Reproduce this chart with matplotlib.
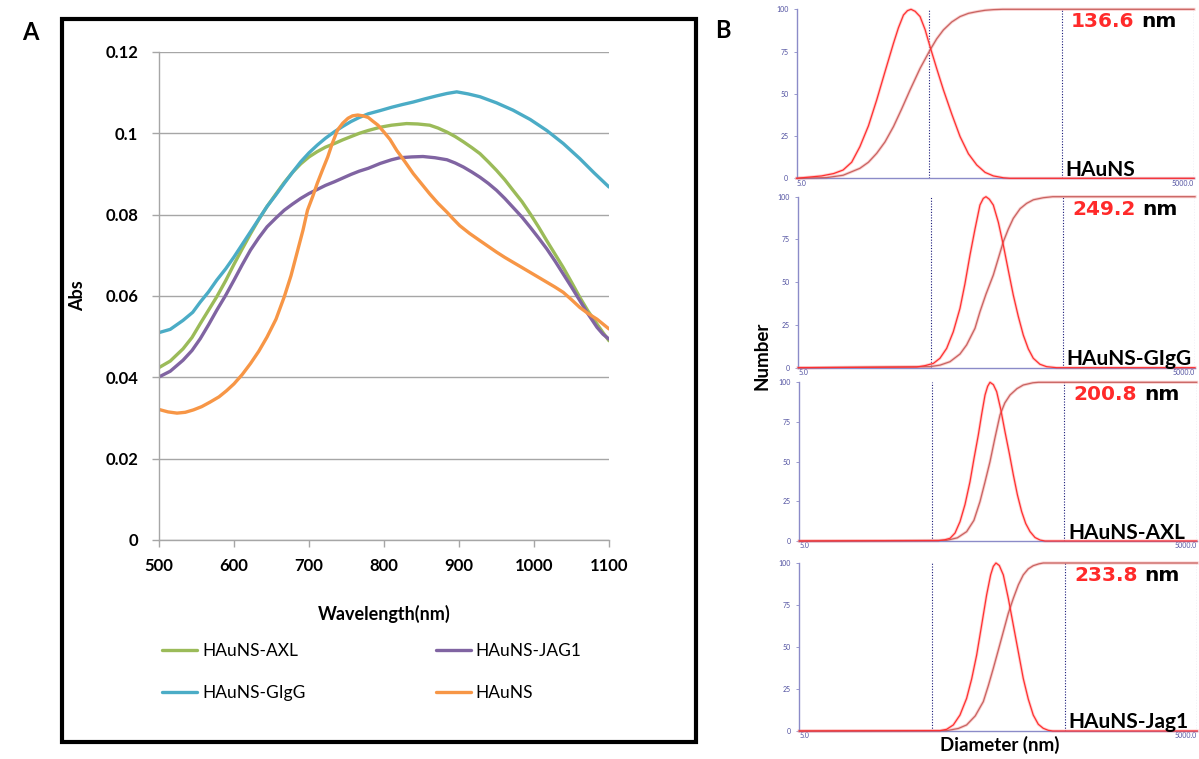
import matplotlib
matplotlib.use("Agg")
import matplotlib.pyplot as plt
from matplotlib.patches import Rectangle

plt.rcParams['font.family'] = ['Lato', 'DejaVu Sans']

# ---------------- Panel A data (UV-Vis) ----------------
wl_axl = [500, 515, 532, 544, 555, 566, 577, 589, 600, 611, 622, 633, 644, 656, 667, 678, 689, 700, 711, 722, 734, 745, 756, 767, 779, 795, 810, 830, 845, 861, 872, 884, 895, 906, 917, 928, 939, 950, 961, 972, 984, 995, 1006, 1017, 1028, 1039, 1050, 1061, 1072, 1084, 1092, 1100]
abs_axl = [0.0424, 0.0440, 0.0470, 0.0498, 0.0532, 0.0565, 0.0598, 0.0638, 0.0678, 0.0716, 0.0753, 0.0788, 0.0820, 0.0851, 0.0879, 0.0904, 0.0925, 0.0942, 0.0955, 0.0966, 0.0975, 0.0984, 0.0992, 0.1000, 0.1007, 0.1015, 0.1020, 0.1024, 0.1023, 0.1020, 0.1013, 0.1003, 0.0992, 0.0979, 0.0965, 0.0950, 0.0930, 0.0909, 0.0886, 0.0860, 0.0832, 0.0802, 0.0770, 0.0736, 0.0703, 0.0670, 0.0634, 0.0597, 0.0563, 0.0531, 0.0510, 0.0490]

wl_jag1 = [500, 515, 532, 544, 555, 566, 577, 589, 600, 611, 622, 633, 644, 656, 667, 678, 689, 700, 711, 722, 734, 745, 756, 767, 779, 795, 810, 821, 837, 852, 868, 884, 895, 906, 917, 928, 939, 950, 961, 972, 984, 995, 1006, 1017, 1028, 1039, 1050, 1061, 1072, 1084, 1092, 1100]
abs_jag1 = [0.0401, 0.0415, 0.0442, 0.0466, 0.0495, 0.0529, 0.0565, 0.0602, 0.0639, 0.0677, 0.0713, 0.0743, 0.0770, 0.0792, 0.0811, 0.0826, 0.0840, 0.0852, 0.0862, 0.0872, 0.0881, 0.0890, 0.0899, 0.0907, 0.0914, 0.0926, 0.0935, 0.0940, 0.0942, 0.0943, 0.0940, 0.0935, 0.0927, 0.0917, 0.0905, 0.0892, 0.0877, 0.0860, 0.0840, 0.0818, 0.0794, 0.0769, 0.0743, 0.0716, 0.0686, 0.0654, 0.0622, 0.0589, 0.0556, 0.0523, 0.0506, 0.0494]

wl_gigg = [500, 515, 532, 545, 555, 566, 577, 589, 600, 611, 622, 633, 644, 656, 667, 678, 689, 700, 711, 722, 734, 745, 756, 767, 779, 795, 810, 825, 839, 855, 870, 884, 897, 912, 928, 950, 972, 995, 1017, 1039, 1061, 1080, 1100]
abs_gigg = [0.0510, 0.0518, 0.0540, 0.0560, 0.0585, 0.0610, 0.0639, 0.0667, 0.0696, 0.0727, 0.0758, 0.0789, 0.0820, 0.0849, 0.0877, 0.0904, 0.0930, 0.0952, 0.0971, 0.0988, 0.1004, 0.1017, 0.1029, 0.1039, 0.1048, 0.1056, 0.1064, 0.1071, 0.1077, 0.1085, 0.1092, 0.1098, 0.1102, 0.1097, 0.1090, 0.1075, 0.1057, 0.1034, 0.1007, 0.0975, 0.0938, 0.0903, 0.0868]

wl_hauns = [500, 512, 524, 535, 546, 557, 568, 580, 590, 600, 611, 622, 633, 644, 656, 667, 676, 685, 692, 698, 705, 711, 718, 725, 731, 738, 745, 752, 758, 765, 772, 779, 785, 792, 800, 808, 817, 828, 839, 850, 861, 872, 884, 892, 901, 914, 928, 939, 950, 961, 972, 984, 995, 1006, 1017, 1028, 1039, 1050, 1061, 1072, 1084, 1092, 1100]
abs_hauns = [0.0321, 0.0315, 0.0312, 0.0314, 0.0320, 0.0328, 0.0339, 0.0352, 0.0367, 0.0384, 0.0407, 0.0434, 0.0464, 0.0499, 0.0543, 0.0598, 0.0650, 0.0713, 0.0762, 0.0811, 0.0845, 0.0877, 0.0910, 0.0942, 0.0975, 0.1008, 0.1025, 0.1037, 0.1043, 0.1045, 0.1043, 0.1039, 0.1030, 0.1020, 0.1003, 0.0985, 0.0958, 0.0930, 0.0901, 0.0876, 0.0851, 0.0828, 0.0806, 0.0790, 0.0773, 0.0754, 0.0736, 0.0722, 0.0708, 0.0695, 0.0683, 0.0670, 0.0658, 0.0646, 0.0634, 0.0622, 0.0609, 0.0591, 0.0572, 0.0557, 0.0543, 0.0531, 0.0519]

series_names = ["HAuNS-AXL", "HAuNS-JAG1", "HAuNS-GIgG", "HAuNS"]
series_colors = ["#9bbb59", "#8064a2", "#4bacc6", "#f79646"]

x_ticks = [500, 600, 700, 800, 900, 1000, 1100]
y_ticks = [0, 0.02, 0.04, 0.06, 0.08, 0.1, 0.12]
y_ticklabels = ["0", "0.02", "0.04", "0.06", "0.08", "0.1", "0.12"]

# ---------------- Panel B data (DLS number distributions) ----------------
panel_names = ["HAuNS", "HAuNS-GIgG", "HAuNS-AXL", "HAuNS-Jag1"]
panel_sizes = ["136.6", "249.2", "200.8", "233.8"]

dist_d = [
    [5, 7.7, 9.5, 11.2, 13.0, 15.0, 17.4, 20.1, 23.2, 26.9, 29.3, 32.0, 34.3, 36.5, 39.2, 42.7, 46.6, 50.8, 57.0, 64.1, 74.1, 85.6, 99.0, 114.4, 132.3, 152.8, 182, 204, 5000],
    [5, 39.3, 45.4, 52.5, 58.9, 66.2, 74.3, 83.5, 91.0, 99.4, 108.4, 118.2, 125.3, 131.3, 139.3, 149.2, 162.9, 177.6, 193.6, 211.2, 230.5, 251.4, 274.4, 299.3, 336, 377.4, 449, 5000],
    [5, 56.1, 62.9, 68.7, 74.9, 81.7, 89.1, 97.2, 104.2, 112.3, 119.1, 126.2, 132.1, 137.6, 145.9, 154.5, 165.8, 178.5, 192.7, 206.5, 221.7, 238.6, 256, 276.0, 301, 328.3, 358, 5000],
    [5, 57.4, 64.5, 72.4, 81.3, 91.2, 99.6, 108.6, 118.4, 129.1, 138.5, 145, 151.8, 160.9, 172.5, 188.1, 205.1, 223.9, 243.8, 266, 290.0, 316.6, 345.0, 376.6, 407, 5000],
]
dist_v = [
    [0, 1.4, 2.8, 4.9, 9.5, 18.7, 31, 46.4, 63, 79.9, 89, 96.6, 99.2, 100, 98.8, 95.7, 88, 77.9, 65, 52.3, 38, 24.7, 14.5, 7.9, 3.5, 1.4, 0.3, 0, 0],
    [0, 0.4, 1.2, 2.5, 5.5, 11.3, 21, 34.7, 49, 65.9, 81, 95.1, 99, 100, 98.5, 95.1, 85, 71.7, 57, 42.5, 30, 19.1, 11, 5.5, 2, 0.6, 0, 0],
    [0, 0.2, 0.8, 1.7, 5, 12.2, 23, 37.4, 52, 66.8, 80, 92, 97.5, 100, 98.5, 94.1, 83, 68.9, 55, 41.6, 29, 18.5, 11, 5.9, 2.2, 0.6, 0, 0],
    [0, 0.2, 1, 3.6, 9.5, 19.4, 31, 45.2, 63, 81, 93, 98, 100, 98.5, 92.9, 79, 63.1, 47, 31.3, 19, 9.5, 4, 1.6, 0.4, 0, 0],
]
cum_d = [
    [5, 8.4, 11.2, 15.0, 17.4, 20.1, 23.2, 26.9, 31, 35.9, 42.7, 50.8, 57, 64.1, 74.1, 85.6, 99, 114.4, 132, 152.8, 180, 5000],
    [5, 49.5, 59, 70.1, 83.5, 93.7, 108.4, 118.2, 131.3, 149.2, 162.9, 177.6, 193.6, 211.2, 238, 266.6, 300, 356.2, 420, 5000],
    [5, 64.8, 78, 91.7, 104, 115.6, 126, 137.6, 150, 163.7, 178, 194.9, 220, 245.5, 290, 320, 5000],
    [5, 64.5, 79, 91.2, 106, 121.9, 133, 145.0, 158, 172.5, 188, 205.1, 224, 243.8, 266, 290.0, 320, 345, 5000],
]
cum_v = [
    [0, 0.4, 1.8, 5.9, 9.5, 14.8, 21.5, 30.6, 41, 52.3, 65, 75.9, 82.5, 87.8, 92.5, 95.7, 97.6, 98.6, 99.4, 99.8, 100, 100],
    [0, 0.6, 1.5, 3.5, 8, 13.3, 23, 32.7, 43, 54.2, 64, 73.7, 81, 87.3, 93, 96.1, 98.2, 99.4, 100, 100],
    [0, 0.4, 2, 5.9, 13, 24.8, 37, 50.0, 65, 79.4, 87, 92.0, 96, 98.3, 99.7, 100, 100],
    [0, 0.2, 1.5, 3.6, 9, 17.5, 27, 37.3, 48, 59.1, 70, 78.9, 87, 92.9, 96.5, 98.4, 99.5, 100, 100],
]
b_yticks = [0, 25, 50, 75, 100]

# ---------------- Figure ----------------
W, H = 1199, 759
fig = plt.figure(figsize=(W / 100, H / 100), dpi=100)

def fbox(l, t, r, b):
    return [l / W, 1 - b / H, (r - l) / W, (b - t) / H]

# frame around panel A
fig.patches.append(Rectangle((61.5 / W, 1 - 741.5 / H), (695.5 - 61.5) / W, (741.5 - 18.5) / H,
                             transform=fig.transFigure, fill=False, lw=3.0, ec='black'))

axA = fig.add_axes(fbox(159, 52, 609, 540))
xs = [wl_axl, wl_jag1, wl_gigg, wl_hauns]
ys = [abs_axl, abs_jag1, abs_gigg, abs_hauns]
lines = []
for x, y, n, c in zip(xs, ys, series_names, series_colors):
    ln, = axA.plot(x, y, color=c, lw=2.4, label=n, solid_capstyle='round', solid_joinstyle='round')
    lines.append(ln)
axA.set_xlim(500, 1100)
axA.set_ylim(0, 0.12)
axA.set_xticks(x_ticks)
axA.set_xticklabels([str(v) for v in x_ticks], fontsize=12, fontweight='bold')
axA.set_yticks(y_ticks)
axA.set_yticklabels(y_ticklabels, fontsize=12, fontweight='bold')
axA.grid(axis='y', color='#a6a6a6', lw=1.0)
axA.set_axisbelow(True)
for s in ['top', 'right']:
    axA.spines[s].set_visible(False)
for s in ['left', 'bottom']:
    axA.spines[s].set_color('#a6a6a6')
    axA.spines[s].set_linewidth(1.0)
axA.tick_params(axis='both', colors='#a6a6a6', labelcolor='black', length=5, width=1.0)
axA.tick_params(axis='x', pad=8)
axA.tick_params(axis='y', pad=10)
axA.set_xlabel("Wavelength(nm)", fontsize=13, fontweight='bold', labelpad=22)
axA.set_ylabel("Abs", fontsize=13, fontweight='bold', labelpad=14)

# legend order: row1 AXL, JAG1 ; row2 GIgG, HAuNS (matplotlib fills column-wise)
order = [0, 2, 1, 3]
fig.legend([lines[k] for k in order], [series_names[k] for k in order], loc='center',
           bbox_to_anchor=(372 / W, 1 - 672 / H), ncol=2,
           frameon=False, fontsize=12.5, handlelength=2.0, handletextpad=0.3,
           columnspacing=7.5, labelspacing=1.45)

fig.text(22 / W, 1 - 32 / H, "A", fontsize=17, fontweight='bold', ha='left', va='center')
fig.text(723 / W, 1 - 30 / H, "B", fontsize=17, fontweight='bold', ha='center', va='center')

# ---------------- Panel B ----------------
b_boxes = [(796.7, 9.3, 1194, 178.3), (798.3, 196.7, 1195, 367.7),
           (799.3, 382.3, 1196.7, 541), (799.3, 563, 1197.3, 731)]
axis_col = '#8b8bc8'
for i, box in enumerate(b_boxes):
    ax = fig.add_axes(fbox(*box))
    ax.set_xscale('log')
    ax.set_xlim(5, 5000)
    ax.set_ylim(0, 100)
    ax.plot(cum_d[i], cum_v[i], color='#c0504d', lw=0.9, alpha=0.85, clip_on=False, zorder=3)
    ax.plot(cum_d[i], cum_v[i], color='#f4a0a0', lw=2.2, alpha=0.5, clip_on=False, zorder=2)
    ax.plot(dist_d[i], dist_v[i], color='#ff3030', lw=0.9, clip_on=False, zorder=3)
    ax.plot(dist_d[i], dist_v[i], color='#ffb0b0', lw=2.2, alpha=0.6, clip_on=False, zorder=2)
    for xv in [50, 500, 5000]:
        ax.axvline(xv, color='#1a1a7a', lw=0.8, ls=(0, (1, 1.5)), zorder=1)
    for s in ['top', 'right']:
        ax.spines[s].set_visible(False)
    ax.spines['left'].set_color(axis_col)
    ax.spines['bottom'].set_color(axis_col)
    ax.spines['left'].set_linewidth(1.0)
    ax.spines['bottom'].set_linewidth(1.0)
    ax.set_yticks(b_yticks)
    ax.set_yticklabels([str(v) for v in b_yticks], fontsize=5, color='#5050a0')
    ax.set_xticks([5, 5000])
    ax.set_xticklabels(["5.0", "5000.0"], fontsize=5, color='#5050a0')
    ax.xaxis.set_minor_locator(plt.NullLocator())
    ax.tick_params(axis='y', length=2, width=0.6, color=axis_col, pad=4)
    ax.tick_params(axis='x', length=0, pad=1)
    for lbl, ha in zip(ax.get_xticklabels(), ['left', 'right']):
        lbl.set_ha(ha)
    t_num = ax.text(0.69, 0.925, panel_sizes[i], transform=ax.transAxes, fontsize=14.5,
                    fontweight='bold', family='DejaVu Sans', ha='left', va='center', color='#ff2a2a')
    ax.annotate("nm", xy=(1, 0.5), xycoords=t_num, xytext=(5, 0), textcoords='offset points',
                fontsize=14.5, fontweight='bold', family='DejaVu Sans', ha='left', va='center',
                color='black')
    ax.text(0.677, 0.015, panel_names[i], transform=ax.transAxes, fontsize=15, fontweight='bold',
            ha='left', va='baseline', color='black')

fig.text(762 / W, 1 - 356 / H, "Number", rotation=90, fontsize=13.5, fontweight='bold',
         ha='center', va='center')
fig.text(1000 / W, 1 - 745 / H, "Diameter (nm)", fontsize=13.5, fontweight='bold',
         ha='center', va='center')

fig.savefig("out.png", dpi=100)
